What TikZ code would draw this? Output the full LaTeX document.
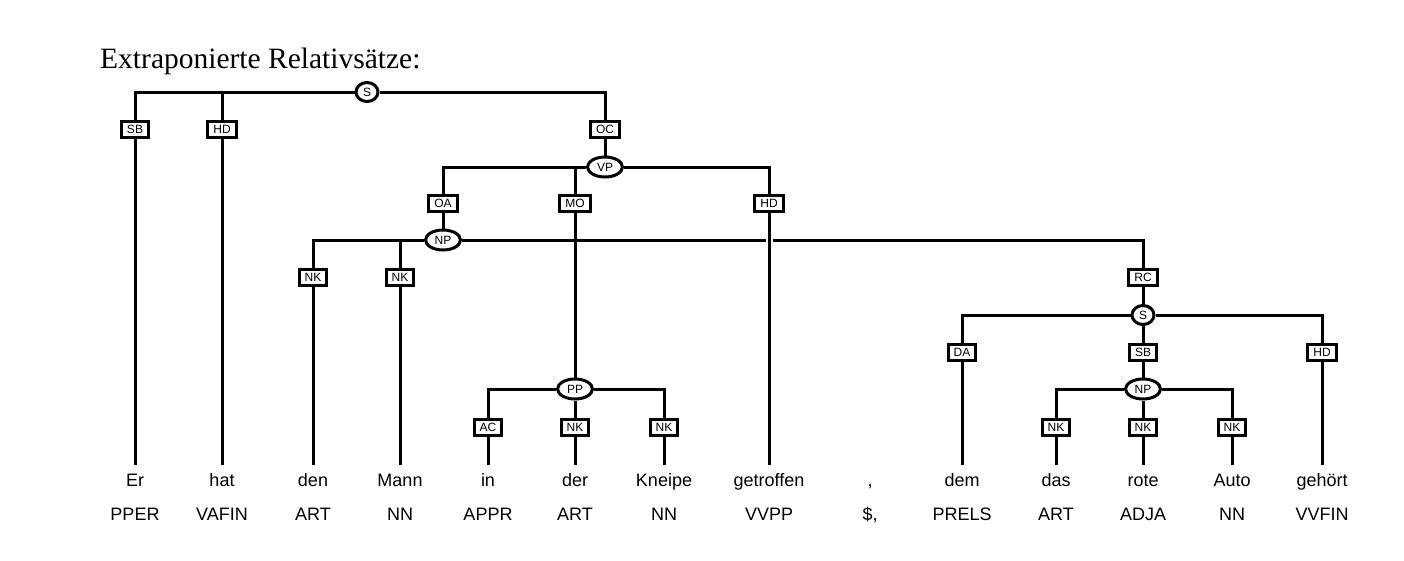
\documentclass[tikz,border=0pt]{standalone}
\usepackage{fontspec}
\setmainfont{Liberation Serif}
\setsansfont{Liberation Sans}
\usetikzlibrary{shapes}

\begin{document}
\begin{tikzpicture}[x=1pt, y=-1pt, font=\sffamily\fontsize{18}{21}\selectfont]
\tikzset{every node/.style={inner sep=0mm}}

\tikzstyle{phrase}=[ellipse, draw=black, fill=white, line width=3pt, outer sep=1.5pt, minimum width=35pt, minimum height=20pt, font=\sffamily\fontsize{12}{13}\selectfont]
\tikzstyle{short phrase}=[phrase, minimum width=22pt, minimum height=19pt]
\tikzstyle{func}=[rectangle, draw=black, fill=white, line width=3pt, outer sep=1.5pt, inner xsep=5.5pt, inner ysep=3.7pt, text height=8.6pt, text depth=0pt, font=\sffamily\fontsize{12}{13}\selectfont]
\tikzstyle{word}=[anchor=base, text height=13pt, text depth=4pt, outer ysep=8pt]
\tikzstyle{tag}=[anchor=base]
\tikzstyle{branch}=[line width=3pt]
\tikzstyle{crossing}=[branch, preaction={draw=white, line width=7pt}]

\useasboundingbox (0,0) rectangle (1404,560);

\node[anchor=base west, font=\rmfamily\fontsize{29.5}{32}\selectfont] (title) at (100,68) {Extraponierte Relativsätze:};

% terminals
\foreach \n/\x/\w/\t in {er/135/Er/PPER, hat/222/hat/VAFIN, den/313/den/ART, mann/400/Mann/NN,
    in/488/in/APPR, der/575/der/ART, kneipe/664/Kneipe/NN, getroffen/769/getroffen/VVPP,
    comma/870/{,}/{\$,}, dem/962/dem/PRELS, das/1056/das/ART, rote/1143/rote/ADJA,
    auto/1232/Auto/NN, gehoert/1322/gehört/VVFIN}{
  \node[word] (\n) at (\x,486) {\w};
  \node[tag] (\n\space tag) at (\x,520) {\t};
}

% main clause
\node[short phrase] (s) at (367,92) {S};
\node[func] (s sb) at (135,129) {SB};
\node[func] (s hd) at (222,129) {HD};
\node[func] (s oc) at (605,129) {OC};

\node[phrase] (vp) at (605,167) {VP};
\node[func] (vp oa) at (443,203) {OA};
\node[func] (vp mo) at (575,203) {MO};
\node[func] (vp hd) at (769,203) {HD};

\node[phrase] (np) at (443,240) {NP};
\node[func] (np nk1) at (313,277) {NK};
\node[func] (np nk2) at (400,277) {NK};
\node[func] (np rc) at (1143,277) {RC};

\node[phrase] (pp) at (575,389) {PP};
\node[func] (pp ac) at (488,427) {AC};
\node[func] (pp nk1) at (575,427) {NK};
\node[func] (pp nk2) at (664,427) {NK};

% relative clause
\node[short phrase] (rs) at (1143,315) {S};
\node[func] (rs da) at (962,352) {DA};
\node[func] (rs sb) at (1143,352) {SB};
\node[func] (rs hd) at (1322,352) {HD};

\node[phrase] (rnp) at (1143,389) {NP};
\node[func] (rnp nk1) at (1056,427) {NK};
\node[func] (rnp nk2) at (1143,427) {NK};
\node[func] (rnp nk3) at (1232,427) {NK};

\draw[branch] (s) -| (s sb);
\draw[branch] (s) -| (s hd);
\draw[branch] (s) -| (s oc);
\draw[branch] (s sb) -- (er);
\draw[branch] (s hd) -- (hat);
\draw[branch] (s oc) -- (vp);

\draw[branch] (vp) -| (vp oa);
\draw[branch] (vp) -| (vp mo);
\draw[branch] (vp) -| (vp hd);
\draw[branch] (vp oa) -- (np);
\draw[branch] (vp mo) -- (pp);

\draw[branch] (np) -| (np nk1);
\draw[branch] (np) -| (np nk2);
\draw[branch] (np) -| (np rc);
\draw[branch] (np nk1) -- (den);
\draw[branch] (np nk2) -- (mann);
\draw[branch] (np rc) -- (rs);

\draw[crossing] (vp hd) -- (getroffen);

\draw[branch] (pp) -| (pp ac);
\draw[branch] (pp) -- (pp nk1);
\draw[branch] (pp) -| (pp nk2);
\draw[branch] (pp ac) -- (in);
\draw[branch] (pp nk1) -- (der);
\draw[branch] (pp nk2) -- (kneipe);

\draw[branch] (rs) -| (rs da);
\draw[branch] (rs) -- (rs sb);
\draw[branch] (rs) -| (rs hd);
\draw[branch] (rs da) -- (dem);
\draw[branch] (rs sb) -- (rnp);
\draw[branch] (rs hd) -- (gehoert);

\draw[branch] (rnp) -| (rnp nk1);
\draw[branch] (rnp) -- (rnp nk2);
\draw[branch] (rnp) -| (rnp nk3);
\draw[branch] (rnp nk1) -- (das);
\draw[branch] (rnp nk2) -- (rote);
\draw[branch] (rnp nk3) -- (auto);

\end{tikzpicture}
\end{document}
